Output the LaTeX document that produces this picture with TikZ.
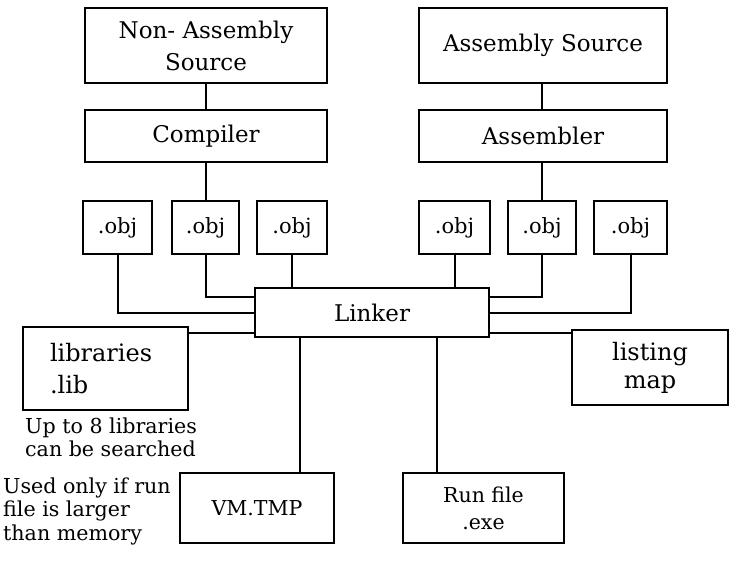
\documentclass[tikz,border=0pt]{standalone}
\usepackage{fontspec}
\setmainfont{DejaVu Serif}
\begin{document}
\begin{tikzpicture}[x=1pt,y=-1pt,
  box/.style={draw, line width=2pt, inner sep=0pt, align=center,
    font=\fontsize{23}{32}\selectfont},
  objbox/.style={box, minimum height=53pt, font=\fontsize{21}{25}\selectfont},
  smallbox/.style={box, minimum width=157pt, minimum height=70pt,
    font=\fontsize{20.5}{27}\selectfont},
  note/.style={anchor=west, align=left, inner sep=0pt,
    font=\fontsize{20.6}{22.5}\selectfont},
  wire/.style={line width=2pt}]
\useasboundingbox (0,0) rectangle (730,565);

% sources and translators
\node[box, minimum width=242pt, minimum height=75pt] (nas) at (206,45.5)
  {Non- Assembly\\Source};
\node[box, minimum width=248pt, minimum height=75pt] (asrc) at (543,45.5)
  {Assembly Source};
\node[box, minimum width=242pt, minimum height=52pt] (comp) at (206,136) {Compiler};
\node[box, minimum width=248pt, minimum height=52pt] (asm) at (543,136) {Assembler};

% object files
\node[objbox, minimum width=69pt] (obj1) at (117.5,227.5) {.obj};
\node[objbox, minimum width=67pt] (obj2) at (205.5,227.5) {.obj};
\node[objbox, minimum width=70pt] (obj3) at (292,227.5) {.obj};
\node[objbox, minimum width=71pt] (obj4) at (454.5,227.5) {.obj};
\node[objbox, minimum width=68pt] (obj5) at (542,227.5) {.obj};
\node[objbox, minimum width=73pt] (obj6) at (630.5,227.5) {.obj};

% linker and its inputs/outputs
\node[box, minimum width=234pt, minimum height=49pt] (linker) at (372,312.5) {Linker};
\node[box, minimum height=83pt, text width=111pt, inner xsep=27pt, align=left,
  font=\fontsize{24}{32}\selectfont] (lib) at (105.5,368.5) {libraries\\.lib};
\node[box, minimum width=156pt, minimum height=75pt,
  font=\fontsize{24}{28}\selectfont] (listing) at (650,367.5) {listing\\map};
\node[smallbox, minimum width=154pt] (vm) at (257,508) {VM.TMP};
\node[smallbox, minimum width=161pt] (run) at (483.5,508) {Run file\\.exe};

% notes
\node[note] (libnote) at (25,437.5) {Up to 8 libraries\\can be searched};
\node[note, font=\fontsize{20.6}{23.5}\selectfont] (vmnote) at (3,511)
  {Used only if run\\file is larger\\than memory};

% connectors
\draw[wire] (nas.south -| obj2.north) -- (comp.north -| obj2.north);
\draw[wire] (comp.south -| obj2.north) -- (obj2.north);
\draw[wire] (asrc.south -| obj5.north) -- (asm.north -| obj5.north);
\draw[wire] (asm.south -| obj5.north) -- (obj5.north);

\draw[wire] (obj1.south) |- (linker.west);
\draw[wire] (obj2.south) |- ([yshift=15.5pt]linker.west);
\draw[wire] (obj3.south) -- (obj3.south |- linker.north);
\draw[wire] (obj4.south) -- (obj4.south |- linker.north);
\draw[wire] (obj5.south) |- ([yshift=15.5pt]linker.east);
\draw[wire] (obj6.south) |- (linker.east);

\draw[wire] ([yshift=-20.5pt]linker.west) -- ([yshift=-20.5pt]linker.west -| lib.east);
\draw[wire] ([yshift=-20.5pt]linker.east) -- ([yshift=-20.5pt]linker.east -| listing.west);
\draw[wire] ([xshift=-72pt]linker.south) -- ([xshift=-72pt]linker.south |- vm.north);
\draw[wire] ([xshift=65pt]linker.south) -- ([xshift=65pt]linker.south |- run.north);
\end{tikzpicture}
\end{document}
